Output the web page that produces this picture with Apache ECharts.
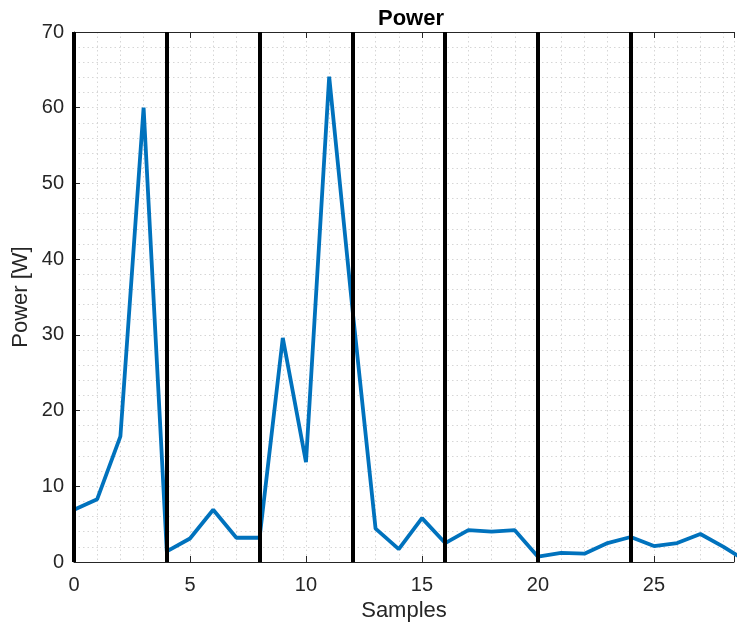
<!DOCTYPE html>
<html>
<head>
<meta charset="utf-8">
<script src="https://cdn.jsdelivr.net/npm/echarts@6/dist/echarts.min.js"></script>
<style>html,body{margin:0;padding:0;background:#fff;}#c{width:737px;height:628px;}</style>
</head>
<body>
<div id="c"></div>
<script>
var samples = [0,1,2,3,4,5,6,7,8,9,10,11,12,13,14,15,16,17,18,19,20,21,22,23,24,25,26,27,28,29];
var power = [6.9,8.3,16.6,60.0,1.4,3.1,6.9,3.2,3.2,29.6,13.2,64.1,33.5,4.4,1.7,5.8,2.5,4.2,4.0,4.2,0.7,1.2,1.1,2.5,3.3,2.1,2.5,3.7,2.0,0.1];
var boundaries = [0,4,8,12,16,20,24];
var xTicks = [0,5,10,15,20,25];
var yTicks = [0,10,20,30,40,50,60,70];

var font = 'Liberation Sans, Arial, Helvetica, sans-serif';
var textColor = '#262626';
var chart = echarts.init(document.getElementById('c'));
var gridDot = {show:true, lineStyle:{color:'#d6d6d6', type:[1.5,3], width:1}};
chart.setOption({
  animation:false,
  title:{text:'Power', left:406, top:3, textAlign:'center',
    textStyle:{fontFamily:font, fontSize:22, fontWeight:'bold', color:'#000'}},
  grid:{left:74, top:32, right:0, bottom:66},
  xAxis:[{
    type:'value', min:0, max:28.45, interval:5,
    name:'Samples', nameLocation:'middle', nameGap:37,
    nameTextStyle:{fontFamily:font, fontSize:22, color:textColor},
    axisLine:{show:true, lineStyle:{color:'#262626', width:1}},
    axisTick:{show:true, inside:true, length:6, lineStyle:{color:'#262626'}},
    axisLabel:{fontFamily:font, fontSize:20, color:textColor, margin:13,
      formatter:function(v){return xTicks.indexOf(v)>=0?String(v):'';}},
    splitLine:gridDot,
    minorTick:{show:false, splitNumber:5},
    minorSplitLine:gridDot
  },{
    type:'value', min:0, max:28.45, interval:5, position:'top',
    axisLine:{show:true, lineStyle:{color:'#262626', width:1}},
    axisTick:{show:true, inside:true, length:6, lineStyle:{color:'#262626'}},
    axisLabel:{show:false}, splitLine:{show:false}
  }],
  yAxis:{
    type:'value', min:0, max:70, interval:10,
    name:'Power [W]', nameLocation:'middle', nameGap:42, nameMoveOverlap:false,
    nameTextStyle:{fontFamily:font, fontSize:22, color:textColor},
    axisLine:{show:true, lineStyle:{color:'#262626', width:1}},
    axisTick:{show:true, inside:true, length:6, lineStyle:{color:'#262626'}},
    axisLabel:{fontFamily:font, fontSize:20, color:textColor, margin:10,
      formatter:function(v){return yTicks.indexOf(v)>=0?String(v):'';}},
    splitLine:gridDot,
    minorTick:{show:false, splitNumber:5},
    minorSplitLine:gridDot
  },
  series:[{
    type:'line',
    data:samples.map(function(s,i){return [s, power[i]];}),
    showSymbol:false, symbol:'none',
    lineStyle:{color:'#0072BD', width:3.8},
    clip:true, z:3
  },{
    type:'line', data:[], z:4,
    markLine:{
      silent:true, symbol:['none','none'], label:{show:false},
      lineStyle:{color:'#000', width:4, type:'solid'},
      data:boundaries.map(function(b){return {xAxis:b};})
    }
  }]
});
</script>
</body>
</html>
